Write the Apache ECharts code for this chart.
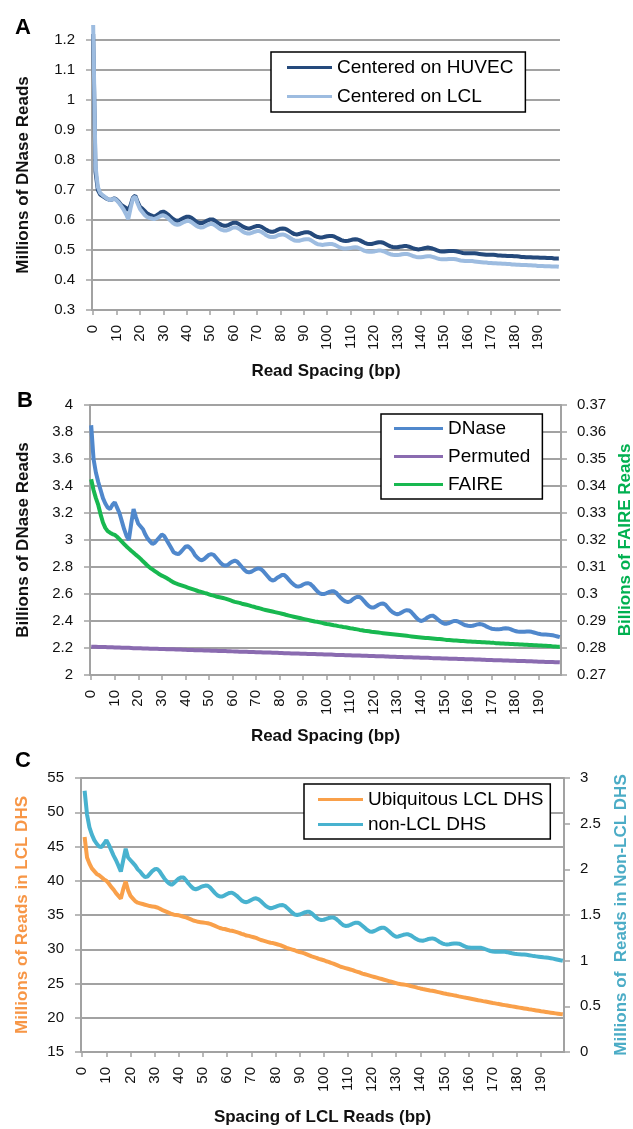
<!DOCTYPE html>
<html>
<head>
<meta charset="utf-8">
<script src="https://cdn.jsdelivr.net/npm/echarts@6/dist/echarts.min.js"></script>
<style>
  html, body { margin: 0; padding: 0; background: #fff; }
  #chart { width: 633px; height: 1129px; }
</style>
</head>
<body>
<div id="chart"></div>
<script>
// read spacing in bp (category axis, labelled every 10)
const spacing = Array.from({ length: 200 }, (_, i) => String(i));

// panel A - millions of DNase reads
const huvec = [
  1.22, 0.76, 0.70, 0.685, 0.68, 0.675, 0.67, 0.667, 0.668, 0.672,
  0.668, 0.66, 0.65, 0.645, 0.64, 0.633, 0.65, 0.675, 0.681, 0.66,
  0.644, 0.638, 0.63, 0.622, 0.618, 0.615, 0.611, 0.615, 0.62, 0.626,
  0.628, 0.624, 0.618, 0.611, 0.604, 0.599, 0.597, 0.6, 0.604, 0.608,
  0.611, 0.611, 0.607, 0.601, 0.595, 0.591, 0.589, 0.591, 0.595, 0.599,
  0.602, 0.602, 0.598, 0.592, 0.587, 0.583, 0.581, 0.581, 0.584, 0.588,
  0.591, 0.591, 0.588, 0.583, 0.578, 0.574, 0.572, 0.572, 0.575, 0.578,
  0.58, 0.58, 0.577, 0.572, 0.567, 0.563, 0.561, 0.561, 0.564, 0.568,
  0.571, 0.572, 0.571, 0.567, 0.562, 0.557, 0.553, 0.552, 0.553, 0.556,
  0.558, 0.559, 0.559, 0.556, 0.551, 0.546, 0.543, 0.542, 0.542, 0.544,
  0.546, 0.547, 0.547, 0.545, 0.541, 0.537, 0.533, 0.531, 0.53, 0.531,
  0.533, 0.535, 0.536, 0.535, 0.532, 0.528, 0.524, 0.521, 0.52, 0.52,
  0.522, 0.524, 0.526, 0.526, 0.524, 0.52, 0.516, 0.512, 0.51, 0.509,
  0.509, 0.511, 0.512, 0.513, 0.513, 0.511, 0.508, 0.505, 0.503, 0.502,
  0.503, 0.505, 0.507, 0.508, 0.507, 0.505, 0.502, 0.499, 0.496, 0.495,
  0.495, 0.496, 0.497, 0.497, 0.497, 0.496, 0.494, 0.492, 0.49, 0.489,
  0.489, 0.489, 0.489, 0.489, 0.488, 0.487, 0.486, 0.485, 0.484, 0.484,
  0.484, 0.484, 0.483, 0.482, 0.482, 0.481, 0.481, 0.48, 0.48, 0.48,
  0.479, 0.479, 0.478, 0.477, 0.477, 0.476, 0.476, 0.476, 0.475, 0.475,
  0.475, 0.474, 0.474, 0.474, 0.473, 0.473, 0.473, 0.472, 0.472, 0.472
];
const lcl = [
  1.25, 0.78, 0.71, 0.69, 0.683, 0.677, 0.671, 0.667, 0.668, 0.671,
  0.666, 0.657, 0.646, 0.635, 0.62, 0.603, 0.64, 0.672, 0.678, 0.655,
  0.637, 0.627, 0.617, 0.61, 0.607, 0.605, 0.603, 0.606, 0.61, 0.614,
  0.616, 0.612, 0.606, 0.598, 0.591, 0.586, 0.584, 0.586, 0.59, 0.594,
  0.597, 0.597, 0.593, 0.587, 0.581, 0.577, 0.575, 0.576, 0.58, 0.584,
  0.587, 0.587, 0.583, 0.577, 0.571, 0.567, 0.565, 0.565, 0.568, 0.572,
  0.575, 0.575, 0.572, 0.567, 0.561, 0.557, 0.555, 0.555, 0.558, 0.561,
  0.563, 0.563, 0.56, 0.555, 0.549, 0.545, 0.543, 0.543, 0.545, 0.549,
  0.551, 0.552, 0.55, 0.546, 0.541, 0.536, 0.532, 0.531, 0.531, 0.533,
  0.535, 0.536, 0.536, 0.533, 0.528, 0.523, 0.519, 0.518, 0.517, 0.518,
  0.519, 0.52, 0.52, 0.518, 0.514, 0.51, 0.507, 0.505, 0.505, 0.506,
  0.507, 0.508, 0.509, 0.508, 0.505, 0.501, 0.497, 0.495, 0.494, 0.494,
  0.495, 0.497, 0.498, 0.498, 0.496, 0.493, 0.489, 0.486, 0.484, 0.483,
  0.483, 0.484, 0.486, 0.487, 0.487, 0.485, 0.482, 0.479, 0.477, 0.476,
  0.476, 0.477, 0.478, 0.479, 0.479, 0.477, 0.475, 0.472, 0.47, 0.469,
  0.469, 0.469, 0.47, 0.47, 0.47, 0.469, 0.467, 0.465, 0.464, 0.463,
  0.463, 0.463, 0.463, 0.462, 0.461, 0.46, 0.459, 0.458, 0.458, 0.457,
  0.457, 0.456, 0.456, 0.455, 0.455, 0.454, 0.454, 0.453, 0.453, 0.452,
  0.452, 0.451, 0.451, 0.45, 0.45, 0.45, 0.449, 0.449, 0.448, 0.448,
  0.447, 0.447, 0.447, 0.446, 0.446, 0.446, 0.445, 0.445, 0.445, 0.444
];

// panel B - billions of reads (DNase & permuted left axis, FAIRE right axis)
const dnase = [
  3.85, 3.60, 3.50, 3.43, 3.37, 3.31, 3.27, 3.24, 3.23, 3.26,
  3.28, 3.24, 3.20, 3.14, 3.08, 3.03, 3.00, 3.12, 3.23, 3.17,
  3.12, 3.10, 3.08, 3.04, 3.01, 2.99, 2.97, 2.98, 3.00, 3.02,
  3.04, 3.03, 3.00, 2.97, 2.94, 2.91, 2.90, 2.895, 2.91, 2.93,
  2.95, 2.955, 2.94, 2.92, 2.89, 2.87, 2.855, 2.85, 2.86, 2.875,
  2.89, 2.895, 2.89, 2.87, 2.85, 2.83, 2.815, 2.81, 2.815, 2.83,
  2.84, 2.847, 2.84, 2.82, 2.80, 2.78, 2.765, 2.76, 2.765, 2.775,
  2.785, 2.79, 2.785, 2.77, 2.75, 2.73, 2.71, 2.70, 2.705, 2.72,
  2.73, 2.74, 2.74, 2.725, 2.705, 2.685, 2.67, 2.658, 2.655, 2.66,
  2.67, 2.678, 2.68, 2.675, 2.66, 2.64, 2.62, 2.605, 2.60, 2.60,
  2.607, 2.615, 2.62, 2.62, 2.61, 2.59, 2.57, 2.555, 2.545, 2.54,
  2.545, 2.56, 2.572, 2.58, 2.578, 2.565, 2.545, 2.525, 2.51, 2.50,
  2.50, 2.51, 2.52, 2.528, 2.53, 2.52, 2.50, 2.48, 2.465, 2.455,
  2.45, 2.455, 2.465, 2.475, 2.48, 2.478, 2.465, 2.445, 2.425, 2.41,
  2.40, 2.405, 2.415, 2.428, 2.437, 2.44, 2.43, 2.415, 2.40, 2.388,
  2.38, 2.38, 2.385, 2.393, 2.40, 2.40, 2.395, 2.385, 2.375, 2.368,
  2.365, 2.363, 2.365, 2.37, 2.375, 2.377, 2.375, 2.368, 2.358, 2.35,
  2.343, 2.34, 2.338, 2.338, 2.34, 2.344, 2.346, 2.345, 2.34, 2.333,
  2.326, 2.322, 2.32, 2.32, 2.321, 2.322, 2.322, 2.32, 2.315, 2.31,
  2.305, 2.302, 2.30, 2.30, 2.299, 2.297, 2.294, 2.29, 2.285, 2.28
];
const permuted = [
  2.210, 2.209, 2.209, 2.208, 2.208, 2.207, 2.207, 2.206, 2.205, 2.205,
  2.204, 2.204, 2.203, 2.202, 2.202, 2.201, 2.201, 2.200, 2.199, 2.199,
  2.198, 2.198, 2.197, 2.197, 2.196, 2.195, 2.195, 2.194, 2.194, 2.193,
  2.192, 2.192, 2.191, 2.191, 2.190, 2.190, 2.189, 2.188, 2.188, 2.187,
  2.187, 2.186, 2.185, 2.185, 2.184, 2.184, 2.183, 2.183, 2.182, 2.181,
  2.181, 2.180, 2.180, 2.179, 2.178, 2.178, 2.177, 2.177, 2.176, 2.176,
  2.175, 2.174, 2.174, 2.173, 2.173, 2.172, 2.172, 2.171, 2.170, 2.170,
  2.169, 2.169, 2.168, 2.167, 2.167, 2.166, 2.166, 2.165, 2.165, 2.164,
  2.163, 2.163, 2.162, 2.162, 2.161, 2.160, 2.160, 2.159, 2.159, 2.158,
  2.158, 2.157, 2.156, 2.156, 2.155, 2.155, 2.154, 2.153, 2.153, 2.152,
  2.152, 2.151, 2.151, 2.150, 2.149, 2.149, 2.148, 2.148, 2.147, 2.146,
  2.146, 2.145, 2.145, 2.144, 2.144, 2.143, 2.142, 2.142, 2.141, 2.141,
  2.140, 2.139, 2.139, 2.138, 2.138, 2.137, 2.137, 2.136, 2.135, 2.135,
  2.134, 2.134, 2.133, 2.132, 2.132, 2.131, 2.131, 2.130, 2.130, 2.129,
  2.128, 2.128, 2.127, 2.127, 2.126, 2.125, 2.125, 2.124, 2.124, 2.123,
  2.123, 2.122, 2.121, 2.121, 2.120, 2.120, 2.119, 2.118, 2.118, 2.117,
  2.117, 2.116, 2.116, 2.115, 2.114, 2.114, 2.113, 2.113, 2.112, 2.111,
  2.111, 2.110, 2.110, 2.109, 2.109, 2.108, 2.107, 2.107, 2.106, 2.106,
  2.105, 2.104, 2.104, 2.103, 2.103, 2.102, 2.102, 2.101, 2.100, 2.100,
  2.099, 2.099, 2.098, 2.097, 2.097, 2.096, 2.096, 2.095, 2.095, 2.094
];
const faire = [
  0.3425, 0.3385, 0.3355, 0.333, 0.3295, 0.3265, 0.3245, 0.3233, 0.3227, 0.3222,
  0.3219, 0.3212, 0.3203, 0.3194, 0.3185, 0.3176, 0.3168, 0.316, 0.3153, 0.3145,
  0.3138, 0.313, 0.3121, 0.3113, 0.3104, 0.3097, 0.3091, 0.3085, 0.3079, 0.3073,
  0.3068, 0.3064, 0.3059, 0.3054, 0.3048, 0.3043, 0.3039, 0.3036, 0.3033, 0.303,
  0.3027, 0.3024, 0.3021, 0.3018, 0.3015, 0.3012, 0.3009, 0.3007, 0.3004, 0.3002,
  0.2999, 0.2996, 0.2994, 0.2991, 0.2989, 0.2987, 0.2985, 0.2983, 0.298, 0.2977,
  0.2974, 0.2971, 0.2969, 0.2967, 0.2964, 0.2962, 0.296, 0.2958, 0.2955, 0.2953,
  0.295, 0.2948, 0.2946, 0.2943, 0.2941, 0.2939, 0.2937, 0.2935, 0.2933, 0.2931,
  0.2929, 0.2927, 0.2925, 0.2922, 0.292, 0.2918, 0.2916, 0.2914, 0.2912, 0.291,
  0.2908, 0.2906, 0.2904, 0.2902, 0.29, 0.2898, 0.2897, 0.2895, 0.2893, 0.2891,
  0.2889, 0.2888, 0.2886, 0.2884, 0.2883, 0.2881, 0.288, 0.2878, 0.2877, 0.2875,
  0.2873, 0.2872, 0.287, 0.2869, 0.2867, 0.2866, 0.2864, 0.2863, 0.2862, 0.286,
  0.2859, 0.2858, 0.2857, 0.2856, 0.2855, 0.2854, 0.2853, 0.2852, 0.2851, 0.285,
  0.2849, 0.2848, 0.2847, 0.2846, 0.2845, 0.2844, 0.2843, 0.2842, 0.2841, 0.284,
  0.2839, 0.2838, 0.2837, 0.2837, 0.2836, 0.2835, 0.2834, 0.2833, 0.2833, 0.2832,
  0.2831, 0.283, 0.283, 0.2829, 0.2828, 0.2828, 0.2827, 0.2826, 0.2826, 0.2825,
  0.2824, 0.2824, 0.2823, 0.2823, 0.2822, 0.2822, 0.2821, 0.2821, 0.282, 0.282,
  0.2819, 0.2819, 0.2818, 0.2818, 0.2817, 0.2817, 0.2816, 0.2816, 0.2815, 0.2815,
  0.2814, 0.2814, 0.2813, 0.2813, 0.2812, 0.2812, 0.2811, 0.2811, 0.281, 0.281,
  0.2809, 0.2809, 0.2808, 0.2808, 0.2807, 0.2807, 0.2806, 0.2806, 0.2805, 0.2805
];

// panel C - millions of reads (ubiquitous left axis, non-LCL right axis)
const ubiquitous = [
  null, 46.4, 43.4, 42.5, 41.8, 41.4, 41.0, 40.8, 40.5, 40.2,
  40.0, 39.6, 39.1, 38.7, 38.2, 37.8, 37.4, 38.8, 39.9, 38.6,
  37.8, 37.4, 37.0, 36.8, 36.7, 36.6, 36.5, 36.4, 36.3, 36.25,
  36.2, 36.1, 35.95, 35.75, 35.6, 35.45, 35.3, 35.15, 35.05, 35.0,
  34.95, 34.85, 34.75, 34.65, 34.5, 34.35, 34.2, 34.1, 34.0, 33.95,
  33.9, 33.85, 33.8, 33.7, 33.55, 33.4, 33.25, 33.1, 33.0, 32.95,
  32.85, 32.75, 32.7, 32.6, 32.5, 32.4, 32.25, 32.15, 32.0, 31.95,
  31.85, 31.75, 31.65, 31.5, 31.35, 31.25, 31.15, 31.05, 30.95, 30.9,
  30.8, 30.7, 30.6, 30.45, 30.3, 30.15, 30.05, 29.95, 29.85, 29.7,
  29.6, 29.5, 29.4, 29.25, 29.1, 28.95, 28.85, 28.75, 28.6, 28.5,
  28.4, 28.25, 28.15, 28.0, 27.9, 27.75, 27.6, 27.45, 27.35, 27.25,
  27.15, 27.05, 26.95, 26.8, 26.7, 26.6, 26.45, 26.35, 26.25, 26.15,
  26.05, 25.95, 25.85, 25.75, 25.65, 25.55, 25.45, 25.35, 25.25, 25.15,
  25.05, 24.95, 24.9, 24.85, 24.8, 24.72, 24.63, 24.55, 24.47, 24.37,
  24.28, 24.2, 24.13, 24.06, 23.99, 23.93, 23.86, 23.78, 23.7, 23.62,
  23.53, 23.46, 23.4, 23.34, 23.27, 23.2, 23.12, 23.05, 22.98, 22.91,
  22.84, 22.77, 22.7, 22.63, 22.56, 22.5, 22.43, 22.37, 22.3, 22.23,
  22.16, 22.1, 22.03, 21.97, 21.9, 21.84, 21.78, 21.72, 21.66, 21.6,
  21.54, 21.48, 21.42, 21.36, 21.3, 21.24, 21.19, 21.13, 21.07, 21.01,
  20.95, 20.9, 20.85, 20.79, 20.74, 20.69, 20.64, 20.59, 20.54, 20.5
];
const nonLcl = [
  null, 2.86, 2.6, 2.46, 2.38, 2.32, 2.28, 2.25, 2.245, 2.28,
  2.32, 2.27, 2.21, 2.15, 2.1, 2.04, 1.975, 2.1, 2.225, 2.13,
  2.1, 2.07, 2.04, 2.0, 1.975, 1.94, 1.915, 1.92, 1.95, 1.98,
  2.0, 2.005, 1.98, 1.94, 1.9, 1.87, 1.845, 1.83, 1.85, 1.875,
  1.9, 1.912, 1.91, 1.88, 1.845, 1.815, 1.79, 1.782, 1.79, 1.805,
  1.815, 1.822, 1.82, 1.8, 1.77, 1.74, 1.715, 1.702, 1.703, 1.715,
  1.73, 1.742, 1.745, 1.73, 1.71, 1.685, 1.66, 1.645, 1.64, 1.65,
  1.665, 1.678, 1.683, 1.672, 1.65, 1.625, 1.6, 1.583, 1.574, 1.58,
  1.59, 1.6, 1.608, 1.61, 1.598, 1.575, 1.55, 1.525, 1.505, 1.5,
  1.505, 1.515, 1.527, 1.535, 1.535, 1.52, 1.495, 1.47, 1.452, 1.445,
  1.448, 1.457, 1.467, 1.473, 1.474, 1.46, 1.438, 1.412, 1.39, 1.38,
  1.382, 1.392, 1.405, 1.414, 1.416, 1.405, 1.383, 1.36, 1.337, 1.32,
  1.317, 1.325, 1.338, 1.352, 1.36, 1.361, 1.345, 1.322, 1.298, 1.275,
  1.262, 1.265, 1.275, 1.283, 1.288, 1.288, 1.278, 1.26, 1.243, 1.228,
  1.22, 1.218, 1.225, 1.234, 1.241, 1.244, 1.238, 1.222, 1.205, 1.19,
  1.181, 1.178, 1.18, 1.185, 1.188, 1.189, 1.186, 1.175, 1.162, 1.15,
  1.143, 1.141, 1.141, 1.142, 1.142, 1.141, 1.135, 1.125, 1.115, 1.106,
  1.1, 1.097, 1.097, 1.098, 1.098, 1.097, 1.093, 1.087, 1.081, 1.076,
  1.072, 1.069, 1.068, 1.067, 1.064, 1.06, 1.055, 1.05, 1.047, 1.044,
  1.041, 1.037, 1.034, 1.031, 1.027, 1.022, 1.016, 1.01, 1.004, 0.999
];

const font = "'Liberation Sans', Arial, sans-serif";
const gridGray = '#a2a2a2';

function xAxis(gridIndex, name, nameGap) {
  return {
    type: 'category', gridIndex, data: spacing, boundaryGap: true,
    axisLine: { lineStyle: { color: gridGray, width: 2 } },
    axisTick: { show: true, interval: 9, alignWithLabel: true, length: 5, lineStyle: { color: gridGray, width: 1.5 } },
    axisLabel: { interval: 9, rotate: 90, fontSize: 15, color: '#111', fontFamily: font, margin: 15 },
    name, nameLocation: 'middle', nameGap,
    nameTextStyle: { fontSize: 17, fontWeight: 'bold', color: '#111', fontFamily: font }
  };
}

function yAxis(gridIndex, min, max, interval, name, nameGap, color, position) {
  const right = position === 'right';
  return {
    type: 'value', gridIndex, min, max, interval, position: right ? 'right' : 'left',
    axisLine: { show: true, lineStyle: { color: gridGray, width: 2 } },
    axisTick: { show: true, length: 6, lineStyle: { color: gridGray, width: 1.5 } },
    splitLine: { show: !right, lineStyle: { color: gridGray, width: 2 } },
    axisLabel: { fontSize: 15, color: '#111', fontFamily: font, margin: right ? 16 : 17 },
    name, nameLocation: 'middle', nameGap, nameRotate: 90,
    nameTextStyle: { fontSize: 17, fontWeight: 'bold', color, fontFamily: font }
  };
}

function line(name, data, color, xi, yi) {
  return {
    name, type: 'line', data, xAxisIndex: xi, yAxisIndex: yi,
    symbol: 'none', clip: false, smooth: false,
    lineStyle: { color, width: 4 }, itemStyle: { color },
    emphasis: { disabled: true }
  };
}

function legend(left, top, names, padding, itemGap, itemWidth) {
  return {
    left, top, orient: 'vertical', data: names, icon: 'rect',
    itemWidth, itemHeight: 3, itemGap, padding,
    borderColor: '#000', borderWidth: 1.5, backgroundColor: '#fff',
    textStyle: { fontSize: 19, color: '#000', fontFamily: font },
    selectedMode: false
  };
}

const chart = echarts.init(document.getElementById('chart'), null, { renderer: 'canvas' });
chart.setOption({
  animation: false,
  backgroundColor: '#fff',
  title: [
    { text: 'A', left: 10, top: 12, textStyle: { fontSize: 22, fontWeight: 'bold', color: '#000', fontFamily: font } },
    { text: 'B', left: 12, top: 385, textStyle: { fontSize: 22, fontWeight: 'bold', color: '#000', fontFamily: font } },
    { text: 'C', left: 10, top: 745, textStyle: { fontSize: 22, fontWeight: 'bold', color: '#000', fontFamily: font } }
  ],
  // fixed pixel plot areas; labels are allowed to sit near the edge
  grid: [
    { left: 92, top: 40, width: 468, height: 270, outerBoundsMode: 'none' },
    { left: 90, top: 405, width: 471, height: 270, outerBoundsMode: 'none' },
    { left: 81, top: 778, width: 483, height: 274, outerBoundsMode: 'none' }
  ],
  xAxis: [
    xAxis(0, 'Read Spacing (bp)', 53),
    xAxis(1, 'Read Spacing (bp)', 53),
    xAxis(2, 'Spacing of LCL Reads (bp)', 57)
  ],
  yAxis: [
    yAxis(0, 0.3, 1.2, 0.1, 'Millions of DNase Reads', 60, '#111'),
    yAxis(1, 2, 4, 0.2, 'Billions of DNase Reads', 58, '#111'),
    yAxis(1, 0.27, 0.37, 0.01, 'Billions of FAIRE Reads', 55, '#00b050', 'right'),
    yAxis(2, 15, 55, 5, 'Millions of Reads in LCL DHS', 50, '#f79646'),
    yAxis(2, 0, 3, 0.5, 'Millions of  Reads in Non-LCL DHS', 49, '#4bacc6', 'right')
  ],
  legend: [
    legend(271, 52, ['Centered on HUVEC', 'Centered on LCL'], [6, 12, 6, 16], 10, 45),
    legend(381, 414, ['DNase', 'Permuted', 'FAIRE'], [5, 12, 5, 13], 9, 49),
    legend(304, 784, ['Ubiquitous LCL DHS', 'non-LCL DHS'], [6, 7, 5, 14], 6, 45)
  ],
  series: [
    line('Centered on HUVEC', huvec, '#254a7c', 0, 0),
    line('Centered on LCL', lcl, '#9dbce0', 0, 0),
    line('DNase', dnase, '#5088cc', 1, 1),
    line('Permuted', permuted, '#8a6bb0', 1, 1),
    line('FAIRE', faire, '#18b850', 1, 2),
    line('Ubiquitous LCL DHS', ubiquitous, '#f9a04a', 2, 3),
    line('non-LCL DHS', nonLcl, '#48b2cf', 2, 4)
  ]
});
</script>
</body>
</html>
